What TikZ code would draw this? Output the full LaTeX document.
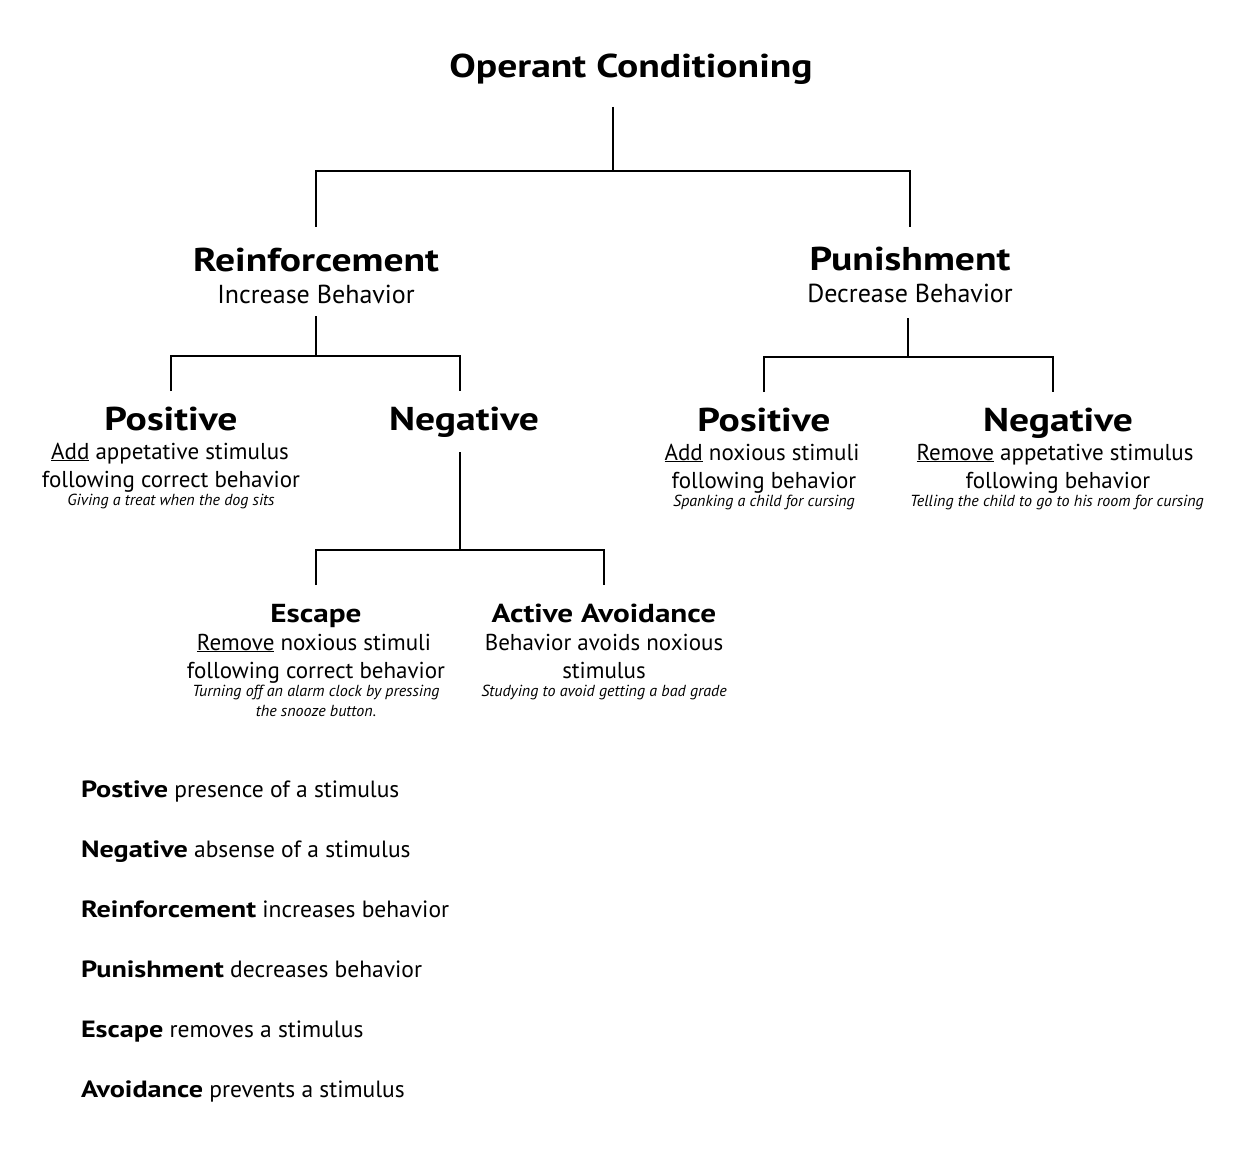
\documentclass[tikz,border=0pt]{standalone}
\usepackage{fontspec}
\setmainfont{PT Sans}[BoldFeatures={FakeStretch=1.2}]
\begin{document}
\begin{tikzpicture}[x=1pt,y=-1pt,line width=1.6pt,
  every node/.style={anchor=base,inner sep=0pt,outer sep=0pt},
  title/.style={font=\fontsize{33}{40}\selectfont\bfseries},
  head/.style={font=\fontsize{33}{40}\selectfont\bfseries},
  sub/.style={font=\fontsize{33}{38}\selectfont\bfseries},
  subsub/.style={font=\fontsize{26}{30}\selectfont\bfseries},
  big/.style={font=\fontsize{26}{30}\selectfont},
  body/.style={font=\fontsize{23}{28}\selectfont},
  ex/.style={font=\fontsize{16}{19}\selectfont\itshape},
  leg/.style={anchor=base west,font=\fontsize{23.5}{27}\selectfont}]
\useasboundingbox (0,0) rectangle (1250,1150);
% title
\node[title] (oc) at (631,78) {Operant Conditioning};
% level 2
\node[head] (re) at (316,272) {Reinforcement};
\node[big] (reb) at (316,304) {Increase Behavior};
\node[head] (pu) at (910,271) {Punishment};
\node[big] (pub) at (910,302) {Decrease Behavior};
% connectors level 1
\coordinate (c0) at (613,107);
\coordinate (c1) at (613,171);
\coordinate (cl) at (316,171);
\coordinate (cr) at (910,171);
\coordinate (cld) at (316,227);
\coordinate (crd) at (910,227);
\draw (c0) -- (c1);
\draw (cld) -- (cl) -- (cr) -- (crd);
% reinforcement children
\node[sub] (rp) at (171,430) {Positive};
\node[body] (rp1) at (170,459) {\underline{Add} appetative stimulus};
\node[body] (rp2) at (171,487) {following correct behavior};
\node[ex] (rp3) at (171,505) {Giving a treat when the dog sits};
\node[sub] (rn) at (464,430) {Negative};
\coordinate (r0) at (316,316);
\coordinate (r1) at (316,356);
\coordinate (rl) at (171,356);
\coordinate (rr) at (460,356);
\coordinate (rld) at (171,391);
\coordinate (rrd) at (460,391);
\draw (r0) -- (r1);
\draw (rld) -- (rl) -- (rr) -- (rrd);
% punishment children
\node[sub] (pp) at (764,431) {Positive};
\node[body] (pp1) at (762,460) {\underline{Add} noxious stimuli};
\node[body] (pp2) at (764,488) {following behavior};
\node[ex] (pp3) at (764,506) {Spanking a child for cursing};
\node[sub] (pn) at (1058,431) {Negative};
\node[body] (pn1) at (1055,460) {\underline{Remove} appetative stimulus};
\node[body] (pn2) at (1058,488) {following behavior};
\node[ex] (pn3) at (1057,506) {Telling the child to go to his room for cursing};
\coordinate (p0) at (908,318);
\coordinate (p1) at (908,357);
\coordinate (pl) at (764,357);
\coordinate (pr) at (1053,357);
\coordinate (pld) at (764,392);
\coordinate (prd) at (1053,392);
\draw (p0) -- (p1);
\draw (pld) -- (pl) -- (pr) -- (prd);
% negative children
\coordinate (n0) at (460,452);
\coordinate (n1) at (460,550);
\coordinate (nl) at (316,550);
\coordinate (nr) at (604,550);
\coordinate (nld) at (316,585);
\coordinate (nrd) at (604,585);
\draw (n0) -- (n1);
\draw (nld) -- (nl) -- (nr) -- (nrd);
\node[subsub] (es) at (316,622) {Escape};
\node[body] (es1) at (314,650) {\underline{Remove} noxious stimuli};
\node[body] (es2) at (316,678) {following correct behavior};
\node[ex] (es3) at (316,696) {Turning off an alarm clock by pressing};
\node[ex] (es4) at (316,716) {the snooze button.};
\node[subsub] (aa) at (604,622) {Active Avoidance};
\node[body] (aa1) at (604,650) {Behavior avoids noxious};
\node[body] (aa2) at (604,678) {stimulus};
\node[ex] (aa3) at (604,696) {Studying to avoid getting a bad grade};
% legend
\node[leg] (l1) at (81,797) {\textbf{Postive} presence of a stimulus};
\node[leg] (l2) at (81,857) {\textbf{Negative} absense of a stimulus};
\node[leg] (l3) at (81,917) {\textbf{Reinforcement} increases behavior};
\node[leg] (l4) at (81,977) {\textbf{Punishment} decreases behavior};
\node[leg] (l5) at (81,1037) {\textbf{Escape} removes a stimulus};
\node[leg] (l6) at (81,1097) {\textbf{Avoidance} prevents a stimulus};
\end{tikzpicture}
\end{document}
